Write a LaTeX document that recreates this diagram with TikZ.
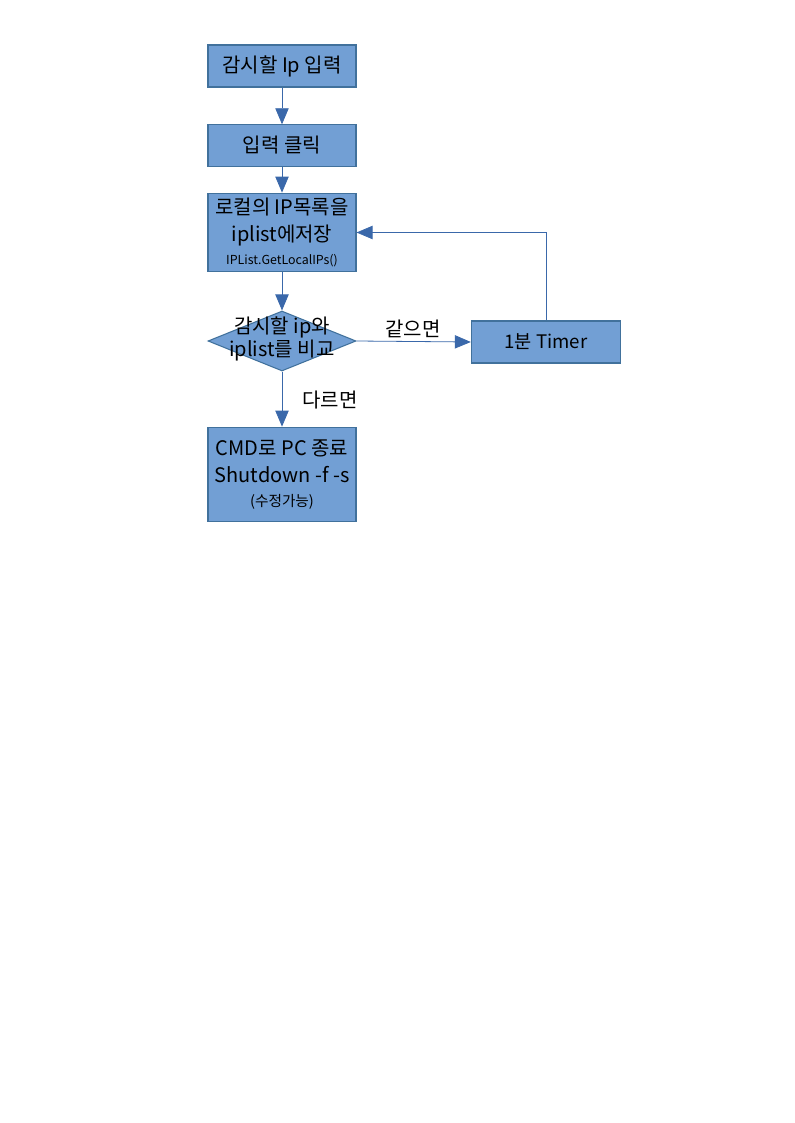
\documentclass[tikz,border=0pt]{standalone}
\usepackage{fontspec}
\setmainfont{Noto Sans CJK KR}
\usetikzlibrary{arrows.meta,shapes.geometric}

\definecolor{boxfill}{RGB}{114,159,212}
\definecolor{boxline}{RGB}{65,113,156}
\definecolor{arrowline}{RGB}{58,104,170}

\begin{document}
\begin{tikzpicture}[x=0.75pt,y=-0.75pt]
	\tikzstyle{stepbox}=[draw=boxline, fill=boxfill, line width=0.8pt, minimum width=111pt, inner sep=0pt, align=center, font=\fontsize{15}{20}\selectfont]
	\tikzstyle{decision}=[diamond, draw=boxline, fill=boxfill, line width=0.8pt, minimum width=111pt, minimum height=45pt, inner sep=0pt]
	\tikzstyle{flow}=[draw=arrowline, line width=0.6pt, -{Triangle[width=10pt,length=12pt]}]
	\tikzstyle{tag}=[font=\fontsize{15}{17.5}\selectfont]
	\useasboundingbox (0,0) rectangle (794,1123);
	% boxes down the left column
	\node[stepbox, minimum height=31.5pt] (input) at (282,66) {감시할 Ip 입력};
	\node[stepbox, minimum height=31pt] (click) at (282,145.5) {입력 클릭};
	\node[stepbox, minimum height=59pt] (local) at (282,232.5) {로컬의 IP목록을\\iplist에저장\\[-3pt]{\fontsize{9.3}{12}\selectfont IPList.GetLocalIPs()}};
	\node[decision] (compare) at (282,341) {};
	\node[tag, align=center] at (282,339) {감시할 ip와\\iplist를 비교};
	\node[stepbox, minimum height=71pt] (shutdown) at (282,474.5) {CMD로 PC 종료\\Shutdown -f -s\\[-2pt]{\fontsize{11}{14}\selectfont (수정가능)}};
	% timer on the right
	\node[stepbox, minimum width=112pt, minimum height=31.5pt, font=\fontsize{14}{17}\selectfont] (timer) at (546,342) {1분 Timer};
	% connectors
	\draw[flow] (input) -- (click);
	\draw[flow] (click) -- (local);
	\draw[flow] (local) -- (compare.north);
	\draw[flow] (compare.east) -- (timer.west);
	\draw[flow] (timer.north) |- (local.east);
	\draw[flow] (compare.south) -- (shutdown);
	% branch labels
	\node[tag] (same) at (413,329) {같으면};
	\node[tag] (diff) at (330,400) {다르면};
\end{tikzpicture}
\end{document}
